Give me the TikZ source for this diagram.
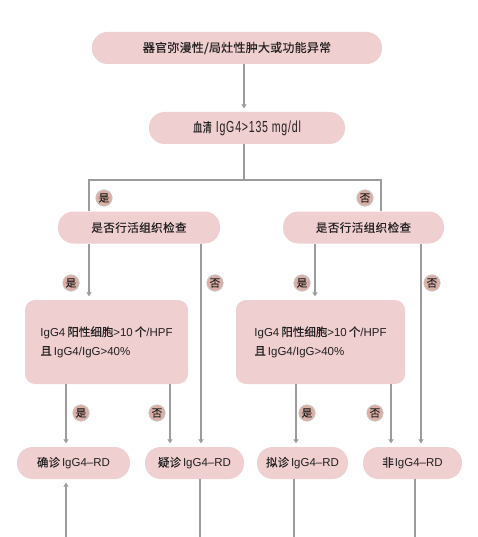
\documentclass[tikz,border=0pt]{standalone}
\usepackage{fontspec}
\setmainfont{Liberation Sans}
\newfontfamily\cjk[FakeBold=0.25]{Noto Sans CJK SC}
\newfontfamily\cjkn[FakeStretch=0.7,LetterSpace=4,FakeBold=0.3]{Noto Sans CJK SC}
\newfontfamily\narrowf[FakeStretch=0.66,LetterSpace=5]{Liberation Sans}
\usetikzlibrary{arrows.meta}
\definecolor{boxpink}{HTML}{F0CFD1}
\definecolor{tagfill}{HTML}{DAB0A6}
\definecolor{tagedge}{HTML}{C6CCCE}
\definecolor{linegray}{HTML}{9C9C9C}
\definecolor{txt}{HTML}{222020}
\tikzset{
  pill/.style={fill=boxpink, draw=none, rounded corners=15.5pt, minimum height=32pt, inner sep=0pt, text=txt, font=\fontsize{11.5}{13}\selectfont},
  rbox/.style={fill=boxpink, draw=none, rounded corners=10pt, minimum height=84pt, inner sep=0pt, text=txt, align=left, font=\fontsize{11.5}{19}\selectfont},
  tag/.style={circle, fill=tagfill, draw=tagedge, line width=0.6pt, minimum size=16.5pt, inner sep=0pt, text=txt, font=\cjk\fontsize{10.5}{10.5}\selectfont},
  conn/.style={draw=linegray, line width=1.2pt},
  arr/.style={conn, -{Triangle[width=5pt,length=4pt]}, shorten >=3.5pt},
}
\begin{document}
\begin{tikzpicture}[x=1pt,y=-1pt]
\useasboundingbox (0,0) rectangle (477,537);
% nodes
\node[pill, minimum width=290pt, font=\fontsize{12}{14}\selectfont] (b1) at (237,48) {\cjk\addfontfeature{LetterSpace=2}器官弥漫性/局灶性肿大或功能异常};
\node[pill, minimum width=196pt] (b2) at (247,128) {{\cjkn\fontsize{13}{14}\selectfont 血清}\hspace{4pt}{\narrowf\fontsize{16}{16}\selectfont IgG4>135 mg/dl}};
\node[pill, minimum width=162pt] (bl) at (139,227.5) {\cjk\addfontfeature{LetterSpace=4}是否行活组织检查};
\node[pill, minimum width=161pt] (br) at (363.5,227.5) {\cjk\addfontfeature{LetterSpace=4}是否行活组织检查};
\node[rbox, minimum width=163pt] (il) at (106.5,342) {IgG4\hspace{2pt}{\cjk 阳性细胞}>10\hspace{2pt}{\cjk 个}/HPF\\{\cjk 且}\hspace{2pt}IgG4/IgG>40\%};
\node[rbox, minimum width=169pt] (ir) at (320.5,342) {IgG4\hspace{2pt}{\cjk 阳性细胞}>10\hspace{2pt}{\cjk 个}/HPF\\{\cjk 且}\hspace{2pt}IgG4/IgG>40\%};
\node[pill, minimum width=113pt] (d1) at (73.5,463) {{\cjk 确诊}\hspace{2pt}IgG4–RD};
\node[pill, minimum width=99pt] (d2) at (194.5,463) {{\cjk 疑诊}\hspace{2pt}IgG4–RD};
\node[pill, minimum width=91pt] (d3) at (302.5,463) {{\cjk 拟诊}\hspace{2pt}IgG4–RD};
\node[pill, minimum width=99pt] (d4) at (412.5,463) {{\cjk 非}\hspace{1pt}IgG4–RD};
% helper coordinates
\coordinate (xa) at (244,0);
\coordinate (j) at (244,180);
\coordinate (xL) at (89,0);
\coordinate (xR) at (381,0);
\coordinate (x1) at (89,0);
\coordinate (x2) at (201,0);
\coordinate (x3) at (315,0);
\coordinate (x4) at (421,0);
\coordinate (x5) at (66,0);
\coordinate (x6) at (170,0);
\coordinate (x7) at (296,0);
\coordinate (x8) at (391,0);
\coordinate (e1) at (66,537);
\coordinate (e2) at (200,537);
\coordinate (e3) at (294,537);
\coordinate (e4) at (415,537);
% connectors
\draw[arr] (b1.south -| xa) -- (b2.north -| xa);
\draw[conn] (b2.south -| xa) -- (j);
\draw[conn] (j) -| (bl.north -| xL);
\draw[conn] (j) -| (br.north -| xR);
\draw[arr] (bl.south -| x1) -- (il.north -| x1);
\draw[arr] (bl.south -| x2) -- (d2.north -| x2);
\draw[arr] (br.south -| x3) -- (ir.north -| x3);
\draw[arr] (br.south -| x4) -- (d4.north -| x4);
\draw[arr] (il.south -| x5) -- (d1.north -| x5);
\draw[arr] (il.south -| x6) -- (d2.north -| x6);
\draw[arr] (ir.south -| x7) -- (d3.north -| x7);
\draw[arr] (ir.south -| x8) -- (d4.north -| x8);
\draw[arr] (e1) -- (d1.south -| e1);
\draw[conn] (d2.south -| e2) -- (e2);
\draw[conn] (d3.south -| e3) -- (e3);
\draw[conn] (d4.south -| e4) -- (e4);
% labels
\node[tag] (t1) at (104,198) {是};
\node[tag] (t2) at (365,198) {否};
\node[tag] (t3) at (71,283) {是};
\node[tag] (t4) at (215,283) {否};
\node[tag] (t5) at (302,283) {是};
\node[tag] (t6) at (432,283) {否};
\node[tag] (t7) at (81,413) {是};
\node[tag] (t8) at (157,413) {否};
\node[tag] (t9) at (307,413) {是};
\node[tag] (t10) at (375,413) {否};
\end{tikzpicture}
\end{document}
